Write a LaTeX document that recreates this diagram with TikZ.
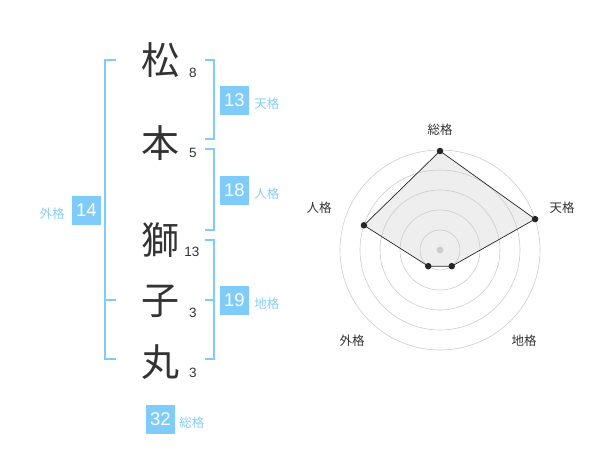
\documentclass[tikz,border=0pt]{standalone}
\usepackage{fontspec}
\setmainfont{Liberation Sans}
\newfontfamily\cjk{Noto Sans CJK JP}
\usetikzlibrary{positioning}
\definecolor{kakublue}{RGB}{127,204,250}
\definecolor{kakutext}{RGB}{135,205,245}
\definecolor{inkgray}{RGB}{51,51,51}
\definecolor{ringgray}{RGB}{204,204,204}
\definecolor{areagray}{RGB}{238,238,238}
\begin{document}
\begin{tikzpicture}
    [
  x=1pt, y=-1pt,
  namechar/.style={
    inner sep=0pt,
    text=inkgray,
    font=\cjk\fontsize{38}{38}\selectfont
  },
  strokes/.style={
    inner sep=0pt,
    text=inkgray,
    font=\fontsize{13.5}{14}\selectfont
  },
  kakubox/.style={
    fill=kakublue,
    text=white,
    minimum width=29pt,
    minimum height=29pt,
    inner sep=0pt,
    font=\fontsize{18.5}{18}\selectfont
  },
  kakulabel/.style={
    inner sep=0pt,
    text=kakutext,
    font=\cjk\fontsize{12.5}{12}\selectfont
  },
  bracket/.style={
    draw=kakublue,
    line width=2pt
  },
  axislabel/.style={
    inner sep=0pt,
    text=inkgray,
    font=\cjk\fontsize{12.5}{13}\selectfont
  },
  ring/.style={
    draw=ringgray,
    line width=0.6pt
  },
  vertex/.style={
    circle,
    fill=black!85,
    minimum size=6.5pt,
    inner sep=0pt
  }
  ]
  \useasboundingbox (0,0) rectangle (600,470);

  % name
  \node (matsu) at (160,60) [namechar] {松};
  \node (moto) at (160,143) [namechar] {本};
  \node (shi) at (160,240) [namechar] {獅};
  \node (ko) at (160,301) [namechar] {子};
  \node (maru) at (160,362) [namechar] {丸};
  \node (n1) at (193,73) [strokes] {8};
  \node (n2) at (193,153) [strokes] {5};
  \node (n3) at (192,252) [strokes] {13};
  \node (n4) at (193,313) [strokes] {3};
  \node (n5) at (193,373) [strokes] {3};

  % brackets
  \coordinate (gt) at (116,60);
  \coordinate (gm) at (116,300);
  \coordinate (gb) at (116,359);
  \draw [bracket] (gt) -| (105,359) -- (gb);
  \draw [bracket] (105,300) -- (gm);
  \coordinate (tt) at (205,60);
  \coordinate (tb) at (205,139);
  \draw [bracket] (tt) -| (214,139) -- (tb);
  \coordinate (jt) at (205,149);
  \coordinate (jb) at (205,230);
  \draw [bracket] (jt) -| (214,230) -- (jb);
  \coordinate (ct) at (205,240);
  \coordinate (cm) at (205,300);
  \coordinate (cb) at (205,359);
  \draw [bracket] (ct) -| (214,359) -- (cb);
  \draw [bracket] (cm) -- (214,300);

  % scores
  \node (ten) at (234.5,100.5) [kakubox] {13};
  \node [kakulabel, right=5pt of ten, yshift=-3.5pt] {天格};
  \node (jin) at (234.5,190.5) [kakubox] {18};
  \node [kakulabel, right=5pt of jin, yshift=-3pt] {人格};
  \node (chi) at (234.5,300.5) [kakubox] {19};
  \node [kakulabel, right=5pt of chi, yshift=-3.5pt] {地格};
  \node (gai) at (86.5,210.5) [kakubox] {14};
  \node [kakulabel, left=7pt of gai, yshift=-3pt] {外格};
  \node (sou) at (160.5,419) [kakubox] {32};
  \node [kakulabel, right=4pt of sou, yshift=-3.5pt] {総格};

  % radar
  \begin{scope}[shift={(440,250)}, yscale=-1]
    \coordinate (s) at (90:99);
    \coordinate (t) at (18:100);
    \coordinate (c) at (-54:20);
    \coordinate (g) at (234:20);
    \coordinate (j) at (162:80);
    \fill [areagray] (s) -- (t) -- (c) -- (g) -- (j) -- cycle;
    \foreach \r in {20,40,60,80,100}
      \draw [ring] (0,0) circle (\r);
    \fill [ringgray] (0,0) circle (3.5);
    \draw [black!85, line width=0.7pt] (s) -- (t) -- (c) -- (g) -- (j) -- cycle;
    \foreach \p in {s,t,c,g,j}
      \node at (\p) [vertex] {};
  \end{scope}
  \node (ls) at (440,130) [axislabel] {総格};
  \node (lt) at (562,208) [axislabel] {天格};
  \node (lj) at (319,208) [axislabel] {人格};
  \node (lg) at (352,341) [axislabel] {外格};
  \node (lc) at (524,341) [axislabel] {地格};
\end{tikzpicture}
\end{document}
